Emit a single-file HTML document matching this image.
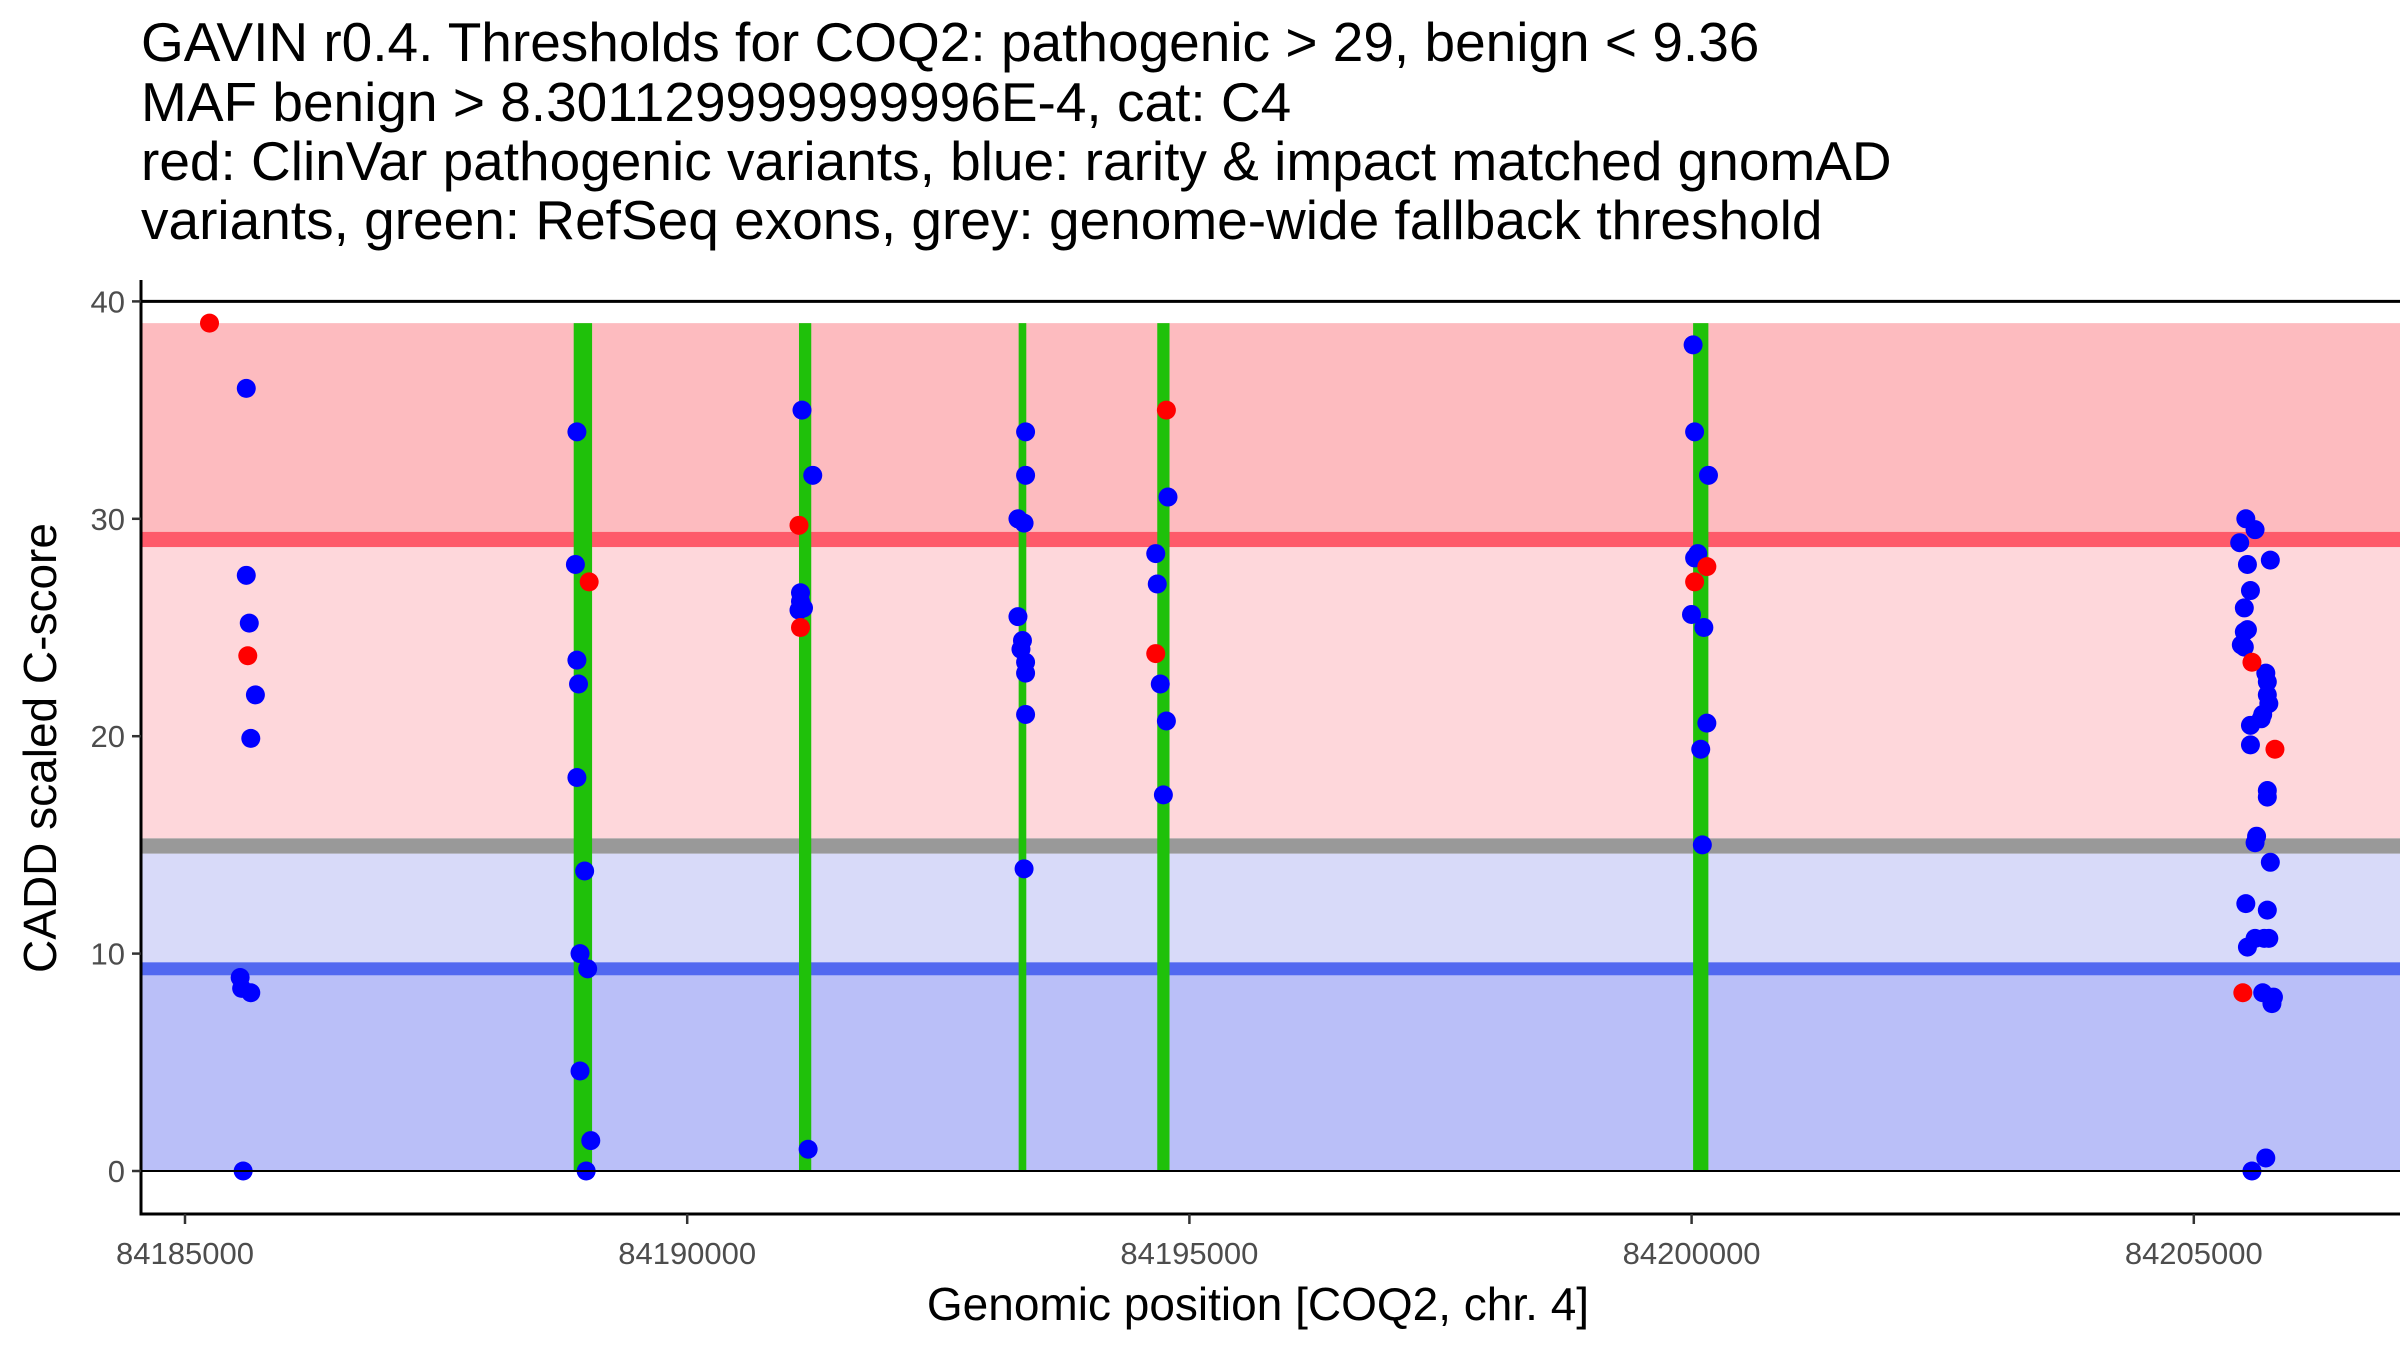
<!DOCTYPE html>
<html><head><meta charset="utf-8"><style>
html,body{margin:0;padding:0;background:#fff;}
svg{display:block;font-family:"Liberation Sans",Arial,sans-serif;}
</style></head><body>
<svg id="chart" width="2400" height="1350" viewBox="0 0 2400 1350" xmlns="http://www.w3.org/2000/svg">
<g font-size="55" fill="#000">
<text x="141" y="61">GAVIN r0.4. Thresholds for COQ2: pathogenic &gt; 29, benign &lt; 9.36</text>
<text x="141" y="121">MAF benign &gt; 8.301129999999996E-4, cat: C4</text>
<text x="141" y="180">red: ClinVar pathogenic variants, blue: rarity &amp; impact matched gnomAD</text>
<text x="141" y="239">variants, green: RefSeq exons, grey: genome-wide fallback threshold</text>
</g>
<g id="bands"></g>
<g id="exons"></g>
<g id="points"></g>
<g id="axes"></g>
<text transform="translate(56,748) rotate(-90)" text-anchor="middle" font-size="46" fill="#000">CADD scaled C-score</text>
<text x="1258" y="1320" text-anchor="middle" font-size="46" fill="#000">Genomic position [COQ2, chr. 4]</text>
</svg>
<script>
const xTicks=[84185000,84190000,84195000,84200000,84205000];
const yTicks=[0,10,20,30,40];
const exonStart=[84188870,84191113,84193300,84194680,84200015];
const exonEnd=[84189053,84191235,84193376,84194802,84200167];
const bandLow=[29.4,15.3,9.6,0];
const bandHigh=[39,28.7,14.6,9.0];
const bandColor=["#fdbbbf","#fed7db","#d8daf9","#babff8"];
const lineLow=[28.7,14.6,9.0];
const lineHigh=[29.4,15.3,9.6];
const lineColor=["#fe5a6a","#999999","#5268f0"];
const blueX=[84185610,84185610,84185640,84185701,84185655,84185549,84185564,84185655,84185579,
84188902,84188887,84188902,84188918,84188902,84188979,84188933,84189009,84188933,84189040,84188994,
84191143,84191250,84191128,84191128,84191113,84191158,84191204,
84193369,84193369,84193293,84193354,84193293,84193338,84193323,84193369,84193369,84193369,84193354,
84194787,84194665,84194680,84194710,84194771,84194741,
84200015,84200030,84200168,84200061,84200030,84199999,84200122,84200152,84200091,84200107,
84205518,84205610,84205457,84205534,84205762,84205564,84205503,84205534,84205503,84205473,84205503,84205717,84205732,84205732,84205747,84205686,84205671,84205564,84205564,84205732,84205732,84205625,84205610,84205762,84205518,84205732,84205610,84205701,84205534,84205747,84205686,84205793,84205778,84205717,84205579];
const blueY=[36,27.4,25.2,21.9,19.9,8.9,8.4,8.2,0,
34,27.9,23.5,22.4,18.1,13.8,10,9.3,4.6,1.4,0,
35,32,26.6,26.2,25.8,25.9,1,
34,32,30,29.8,25.5,24.4,24,23.4,22.9,21,13.9,
31,28.4,27,22.4,20.7,17.3,
38,34,32,28.4,28.2,25.6,25,20.6,19.4,15,
30,29.5,28.9,27.9,28.1,26.7,25.9,24.9,24.8,24.2,24.1,22.9,22.5,21.9,21.5,21,20.8,20.5,19.6,17.5,17.2,15.4,15.1,14.2,12.3,12,10.7,10.7,10.3,10.7,8.2,8.0,7.7,0.6,0];
const redX=[84185244,84185625,84189024,84191113,84191128,84194771,84194665,84200152,84200030,84205579,84205808,84205488];
const redY=[39,23.7,27.1,29.7,25,35,23.8,27.8,27.1,23.4,19.4,8.2];

const NS="http://www.w3.org/2000/svg";
const X0=141,X1=2400,Y0=1171,YB=1214;
function xs(g){return 185+(g-84185000)/5000*502.2;}
function ys(v){return Y0-v*21.74;}
function mk(tag,attrs,parent){const e=document.createElementNS(NS,tag);for(const k in attrs)e.setAttribute(k,attrs[k]);parent.appendChild(e);return e;}
const bands=document.getElementById('bands');
for(let i=0;i<bandLow.length;i++){
  const r=mk('rect',{x:X0,y:ys(bandHigh[i]),width:X1-X0,height:ys(bandLow[i])-ys(bandHigh[i]),fill:bandColor[i]},bands);
  
  
}
for(let i=0;i<lineLow.length;i++){
  const r=mk('rect',{x:X0,y:ys(lineHigh[i]),width:X1-X0,height:ys(lineLow[i])-ys(lineHigh[i]),fill:lineColor[i]},bands);
  
  
}
const ex=document.getElementById('exons');
for(let i=0;i<exonStart.length;i++){
  const r=mk('rect',{x:xs(exonStart[i]),y:ys(39),width:xs(exonEnd[i])-xs(exonStart[i]),height:ys(0)-ys(39),fill:'#1fc10a'},ex);
  
  
}
const ax=document.getElementById('axes');
for(const v of [40,0]){
  const l=mk('line',{x1:X0,x2:X1,y1:ys(v),y2:ys(v),stroke:'#000','stroke-width':v===40?3:2},ax);
  
  
}
const pts=document.getElementById('points');
for(let i=0;i<blueX.length;i++){
  const c=mk('circle',{cx:xs(blueX[i]),cy:ys(blueY[i]),r:9.5,fill:'#0000ff'},pts);
  
  
}
for(let i=0;i<redX.length;i++){
  const c=mk('circle',{cx:xs(redX[i]),cy:ys(redY[i]),r:9.5,fill:'#ff0000'},pts);
  
  
}
const la=mk('line',{x1:X0,x2:X0,y1:280,y2:YB+1.5,stroke:'#000','stroke-width':3},ax);


const ba=mk('line',{x1:X0-1.5,x2:X1,y1:YB,y2:YB,stroke:'#000','stroke-width':3},ax);


for(const v of yTicks){
  const t=mk('line',{x1:X0-9,x2:X0,y1:ys(v),y2:ys(v),stroke:'#333','stroke-width':2.5},ax);
  
  
  const tx=mk('text',{x:X0-16,y:ys(v)+11,'text-anchor':'end','font-size':31,fill:'#4d4d4d'},ax);
  tx.textContent=v;
  
  
}
for(const g of xTicks){
  const t=mk('line',{x1:xs(g),x2:xs(g),y1:YB,y2:YB+10,stroke:'#333','stroke-width':2.5},ax);
  
  
  const tx=mk('text',{x:xs(g),y:1264,'text-anchor':'middle','font-size':31,fill:'#4d4d4d'},ax);
  tx.textContent=g;
  
  
}
</script>
</body></html>
